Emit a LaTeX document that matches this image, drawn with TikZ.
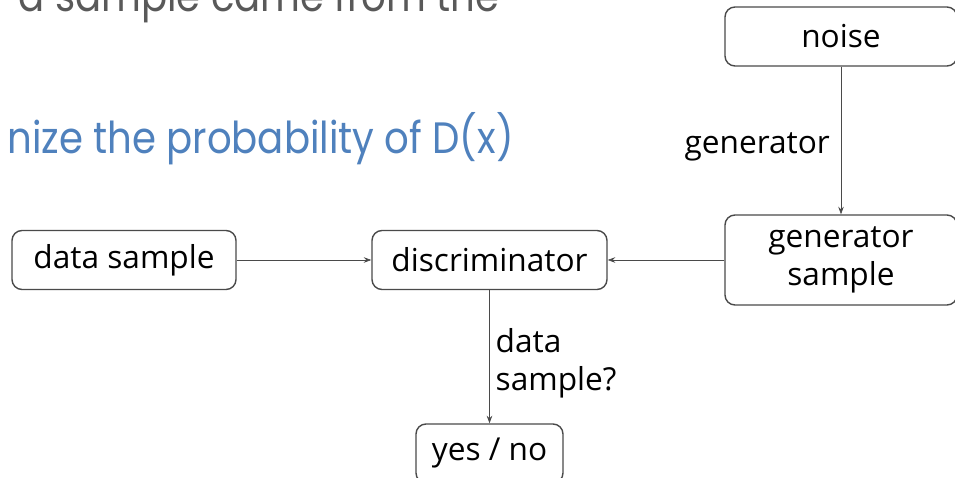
\documentclass[tikz,border=0pt]{standalone}
\usepackage{fontspec}
\setmainfont{Open Sans}
\newfontfamily\slidefont[FakeStretch=0.88]{Poppins}
\usetikzlibrary{arrows.meta}
\definecolor{linegray}{HTML}{4A4A4A}
\definecolor{slidegray}{HTML}{595959}
\definecolor{slideblue}{HTML}{4F81BD}

\begin{document}
\begin{tikzpicture}[>={Stealth[length=1.5mm,width=1.1mm]}]
\tikzstyle{box}=[draw=linegray,line width=0.8pt,rounded corners=0.2cm,minimum height=1.18cm,align=center,font=\fontsize{18}{22}\selectfont]
\tikzstyle{slide}=[anchor=base east,inner sep=0pt,font=\slidefont\fontsize{25}{30}\selectfont]
\tikzstyle{lbl}=[text=black,font=\fontsize{18}{22}\selectfont]

\useasboundingbox (0,0) rectangle (19.1,-9.56);
\clip (0,0) rectangle (19.1,-9.56);

  \node[slide,text=slidegray] (top) at (10.0,-0.24) {a sample came from the};
  \node[slide,text=slideblue] (goal) at (10.28,-3.07) {nize the probability of D(x)};

  \node[box,minimum width=4.64cm] (noise) at (16.82,-0.73) {noise};
  \node[box,minimum width=4.64cm,minimum height=1.8cm] (gen) at (16.82,-5.2) {generator\\sample};
  \node[box,minimum width=4.7cm] (disc) at (9.79,-5.2) {discriminator};
  \node[box,minimum width=4.48cm] (data) at (2.48,-5.2) {data sample};
  \node[box,minimum width=2.94cm] (yn) at (9.79,-9.07) {yes / no};

\foreach \from/\to in {data/disc, gen/disc}
\draw [->,linegray] (\from) -- (\to);

\draw[->,linegray] (noise) -- node[lbl,left,xshift=-0.1cm,yshift=-0.12cm] {generator} (gen);
\draw[->,linegray] (disc) -- node[lbl,right,align=left,yshift=-0.13cm] {data\\sample?} (yn);

\end{tikzpicture}
\end{document}
